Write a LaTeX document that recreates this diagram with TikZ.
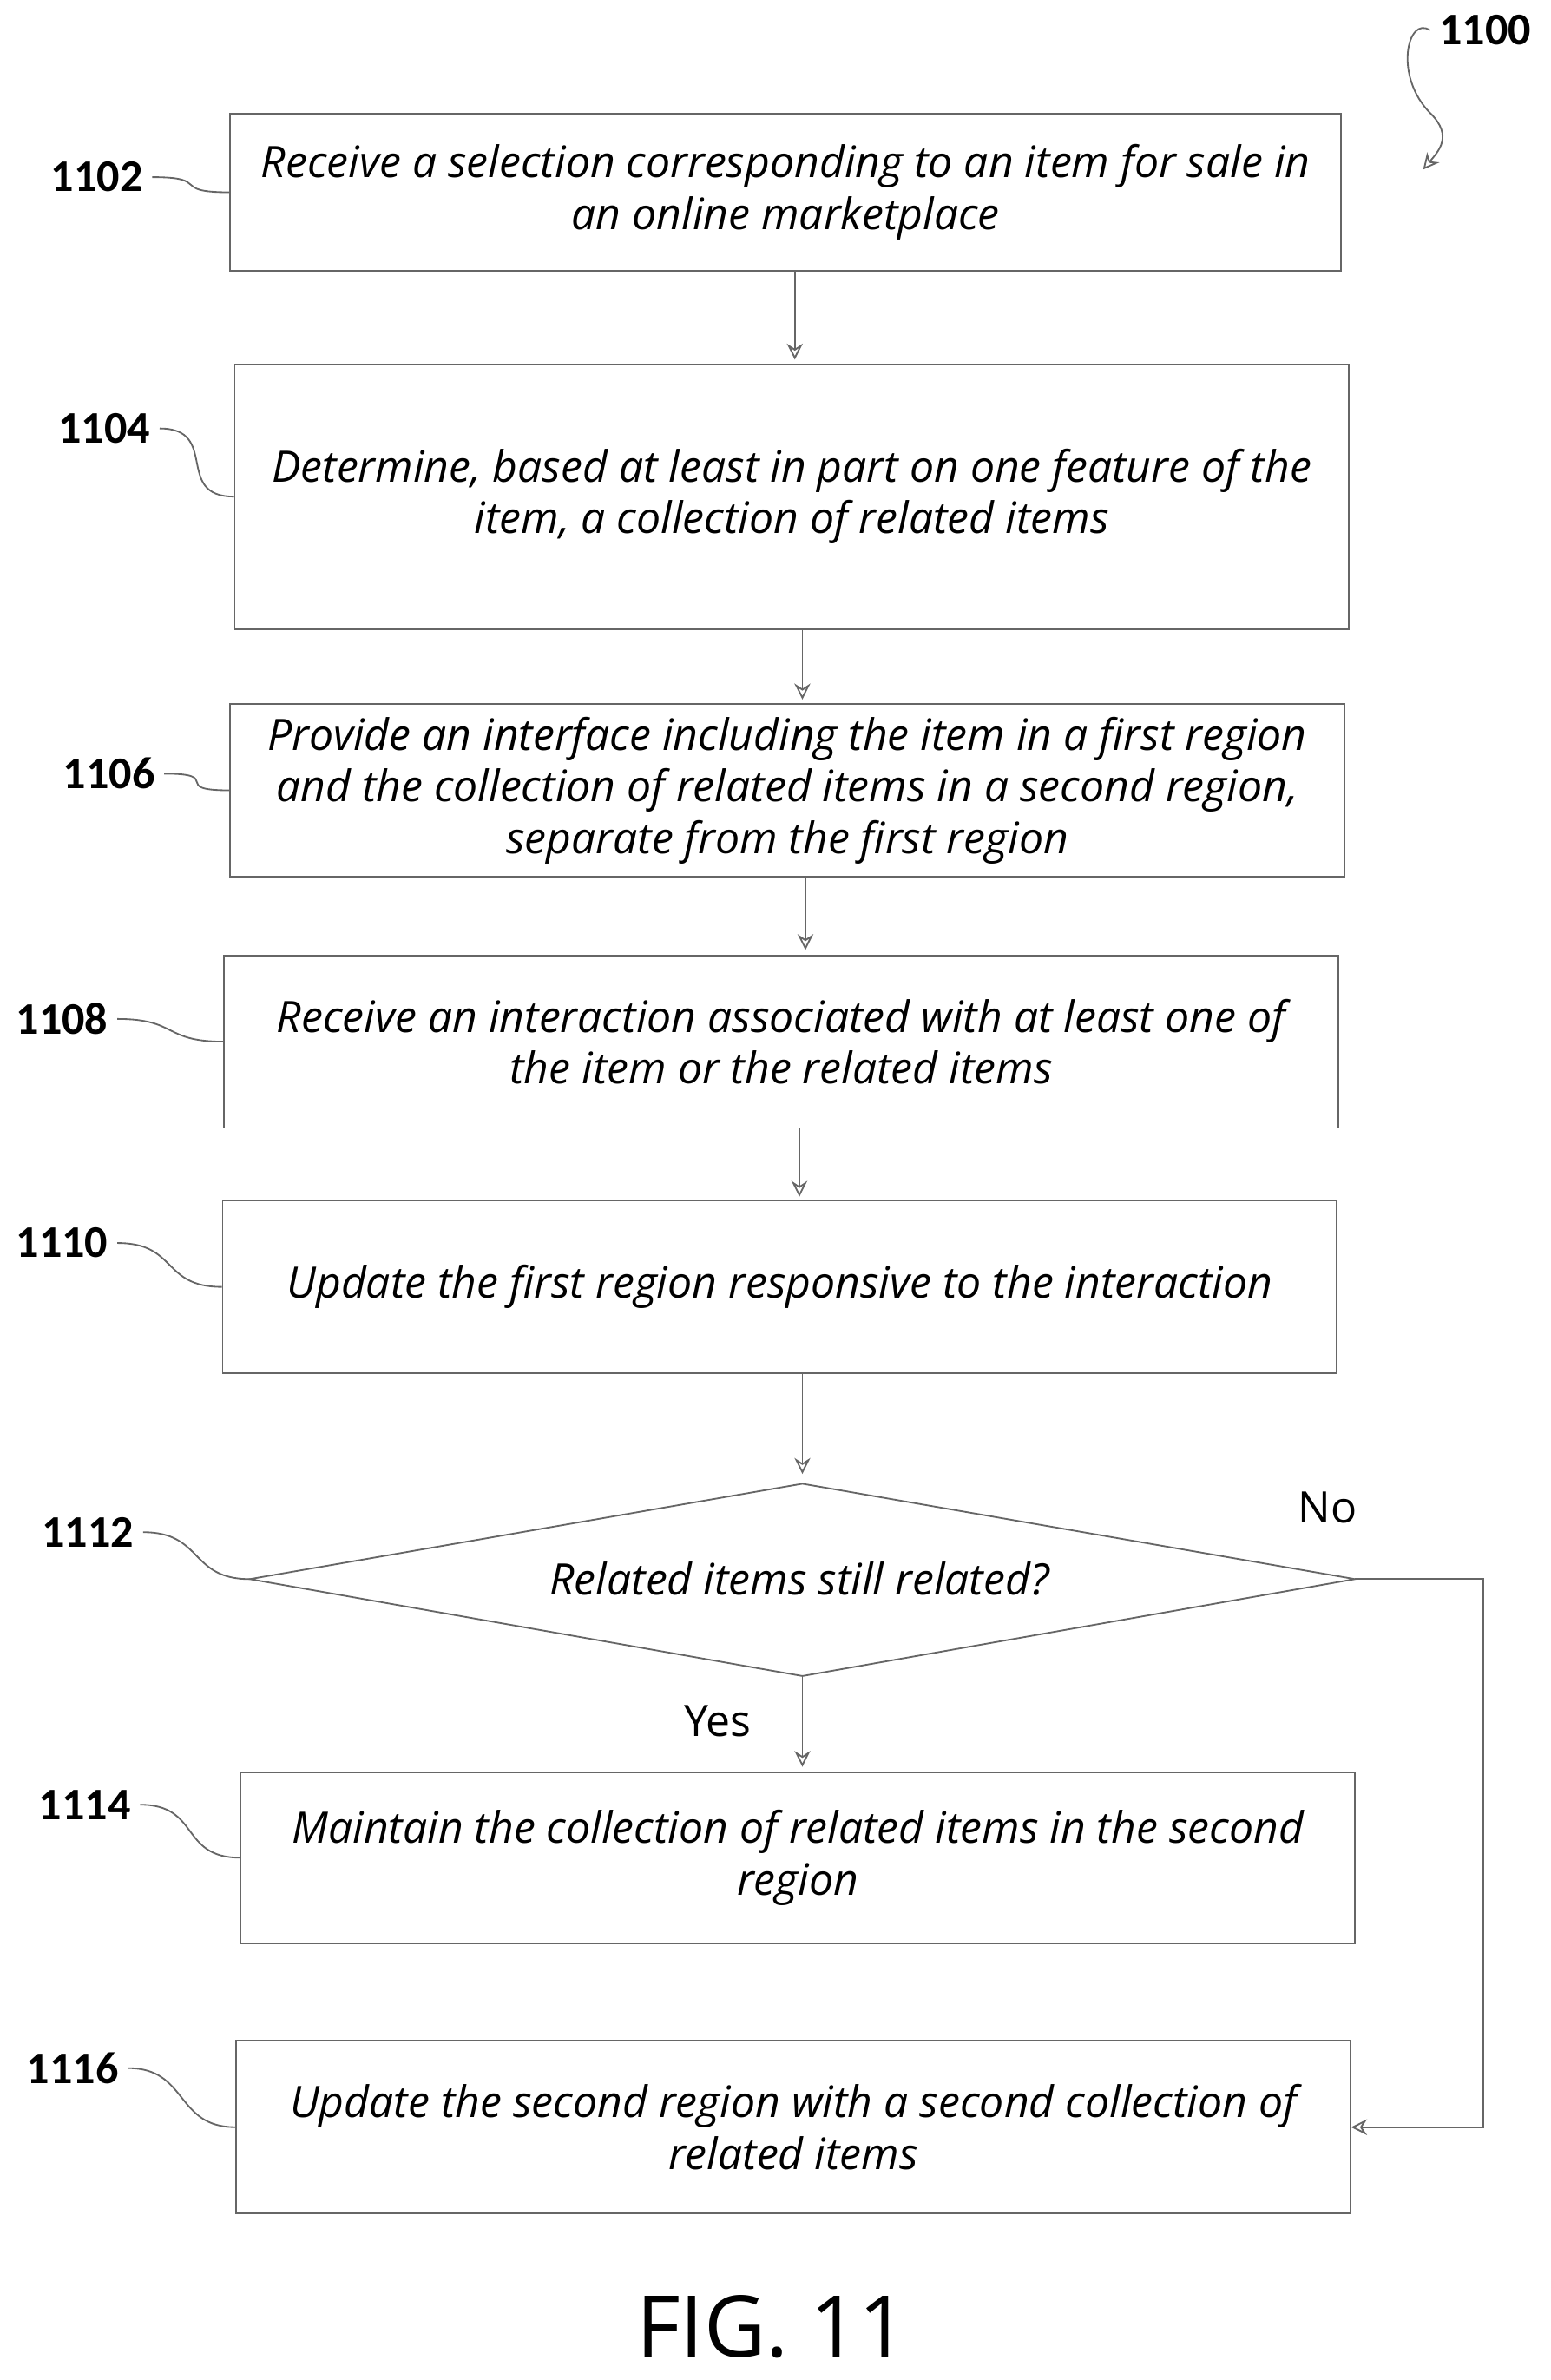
\documentclass[tikz,border=0pt]{standalone}
\usepackage{fontspec}
\setmainfont{Open Sans}
\newfontfamily\numfont{Carlito}
\usetikzlibrary{arrows.meta}
\tikzset{
  stepbox/.style={draw=black!60, line width=0.6pt, minimum width=14.72cm, minimum height=2.28cm, align=center, font=\itshape\fontsize{16.3}{19.4}\selectfont, inner sep=0pt},
  refnum/.style={font=\numfont\bfseries\fontsize{17}{19}\selectfont},
  flow/.style={draw=black!60, line width=0.6pt, -{Stealth[open,length=6pt,width=6pt]}},
  lead/.style={draw=black!60, line width=0.6pt},
}
\begin{document}
\begin{tikzpicture}[x=0.02cm,y=-0.02cm]
  \useasboundingbox (0,0) rectangle (1024,1572);
  %steps
  \node[stepbox, minimum width=14.68cm, minimum height=2.08cm] (s1102) at (519,127) {Receive a selection corresponding to an item for sale in\\an online marketplace};
  \node[stepbox, minimum height=3.5cm] (s1104) at (523,328) {Determine, based at least in part on one feature of the\\item, a collection of related items};
  \node[stepbox] (s1106) at (520,522) {Provide an interface including the item in a first region\\and the collection of related items in a second region,\\separate from the first region};
  \node[stepbox] (s1108) at (516,688) {Receive an interaction associated with at least one of\\the item or the related items};
  \node[stepbox] (s1110) at (515,850) {Update the first region responsive to the interaction};
  %decision
  \coordinate (d1112n) at (530,980);
  \coordinate (d1112e) at (895,1043);
  \coordinate (d1112s) at (530,1107);
  \coordinate (d1112w) at (165,1043);
  \draw[lead] (d1112n) -- (d1112e) -- (d1112s) -- (d1112w) -- cycle;
  \node[stepbox, draw=none, minimum width=0pt, minimum height=0pt] (s1112) at (528,1043) {Related items still related?};
  \node[stepbox, minimum height=2.26cm] (s1114) at (527,1227) {Maintain the collection of related items in the second\\region};
  \node[stepbox] (s1116) at (524,1405) {Update the second region with a second collection of\\related items};

  %reference numerals
  \node[refnum] (n1102) at (64,117) {1102};
  \node[refnum] (n1104) at (69,283) {1104};
  \node[refnum] (n1106) at (72,511) {1106};
  \node[refnum] (n1108) at (41,673) {1108};
  \node[refnum] (n1110) at (41,821) {1110};
  \node[refnum] (n1112) at (58,1012) {1112};
  \node[refnum] (n1114) at (56,1192) {1114};
  \node[refnum] (n1116) at (48,1366) {1116};
  \node[refnum] (n1100) at (981,20) {1100};
  \foreach \s in {1102,1104,1106,1108,1110,1114,1116}
    \draw[lead] (n\s.east) .. controls +(40,0) and +(-40,0) .. (s\s.west);
  \draw[lead] (n1112.east) .. controls +(40,0) and +(-40,0) .. (d1112w);
  \coordinate (c1100) at (940,112);
  \draw[lead, -{Stealth[open,length=6pt,width=6pt]}] (n1100.west) .. controls (930,10) and (920,50) .. (945,75) .. controls (960,90) and (950,100) .. (c1100);

  %flow
  \draw[flow] (s1102.south) ++(6,0) -- ++(0,58);
  \draw[flow] (s1104.south) ++(7,0) -- ++(0,46);
  \draw[flow] (s1106.south) ++(12,0) -- ++(0,48);
  \draw[flow] (s1108.south) ++(12,0) -- ++(0,45);
  \draw[flow] (s1110.south) ++(15,0) -- ++(0,66);
  \draw[flow] (d1112s) -- ++(0,60);
  \coordinate (c1) at (980,1043);
  \draw[flow] (d1112e) -- (c1) |- (s1116.east);
  \node[font=\fontsize{16.3}{19}\selectfont] (no) at (877,996) {No};
  \node[font=\fontsize{16.3}{19}\selectfont] (yes) at (474,1137) {Yes};
  \node[font=\fontsize{32}{40}\selectfont] (fig) at (510,1537) {FIG. 11};
\end{tikzpicture}
\end{document}
